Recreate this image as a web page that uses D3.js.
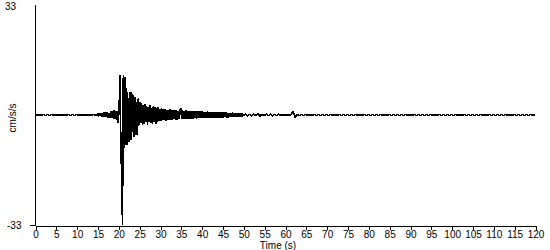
<!DOCTYPE html>
<html>
<head>
<meta charset="utf-8">
<script src="https://cdn.jsdelivr.net/npm/d3@7"></script>
<style>
  html, body { margin: 0; padding: 0; background: #fff; }
  svg { display: block; }
  text { font-family: "Liberation Sans", Arial, sans-serif; font-size: 10px; fill: #000; }
</style>
</head>
<body>
<svg id="chart" width="550" height="250"></svg>
<script>
// ---- data ----
const yTickLabels = [33, -33];
const xTicks = [0,5,10,15,20,25,30,35,40,45,50,55,60,65,70,75,80,85,90,95,100,105,110,115,120];

// quiet segment before the event: 0 s – 15 s, one sample every 0.5 s
const preStart = 0, preStep = 0.5;
const preEvent = [0.15,-0.15,0.15,-0.15,0.15,-0.15,0.15,-0.15,0.15,-0.15,
  0.15,-0.15,0.15,-0.15,0.15,-0.15,0.15,-0.15,0.15,-0.15,
  0.15,-0.15,0.15,-0.15,0.15,-0.15,0.15,-0.15,0.15,-0.15];

// strong motion: 15 s – 50 s, one sample every 0.2 s
const strongStart = 15, strongStep = 0.2;
const strong = [
  0.3,-0.4,0.5,-0.3,0.6,   -0.5,0.7,-0.6,0.8,-0.5,   0.9,-0.7,1.0,-0.8,0.7,
  -1.0,1.1,-0.9,1.3,-1.1,  1.4,-1.2,1.3,-1.4,1.1,
  -2.5,3.0,12.0,-8.0,-20.0, -33.0,12.0,-10.0,11.5,-9.0,
  8.0,-9.0,5.0,-8.0,7.0,   -7.5,7.0,-5.0,6.0,-6.5,   5.5,-6.0,4.0,-6.0,5.0,
  -3.0,4.0,-2.5,3.5,-3.0,  3.0,-2.8,3.2,-2.0,2.8,    -3.0,2.5,-2.2,3.0,-2.5,
  2.2,-2.8,2.6,-2.0,2.4,   -2.6,2.0,-2.2,2.5,-1.8,
  1.9,-1.7,2.0,-1.5,1.8,   -1.6,1.7,-1.8,1.5,-1.6,   1.6,-1.4,1.7,-1.5,1.4,
  -1.5,1.5,-1.3,1.6,-1.4,  1.4,-1.5,1.3,-1.2,1.5,
  2.0,-1.3,1.4,-1.2,1.3,   -1.2,1.4,-1.1,1.2,-1.3,   1.2,-1.1,1.3,-1.2,1.1,
  -1.2,1.1,-1.0,1.2,-1.1,  1.1,-1.0,1.2,-1.0,1.1,
  -1.0,1.1,-0.9,1.0,-1.0,  1.0,-0.9,1.1,-0.9,0.9,    -1.0,0.9,-0.9,1.0,-0.8,
  0.9,-0.9,0.8,-1.0,0.9,   -0.8,0.9,-0.8,0.9,-0.8,
  0.8,-0.8,0.9,-0.7,0.8,   -0.8,0.7,-0.8,0.7,-0.7,   0.7,-0.7,0.8,-0.6,0.7,
  -0.7,0.6,-0.7,0.6,-0.6,  0.6,-0.6,0.7,-0.5,0.6
];

// coda / tail: 50 s – 120 s, one sample every 0.5 s
const tailStart = 50, tailStep = 0.5;
const tail = [
  -0.3,0.3,-0.3,0.25,-0.3,0.3,-0.25,0.3,-0.3,0.25,
  -0.25,0.3,-0.25,0.3,-0.3,0.25,-0.25,0.3,-0.25,0.25,
  -0.2,0.2,-0.2,0.3,1.0,-0.8,0.2,-0.2,0.2,-0.2,
  0.2,-0.2,0.2,-0.2,0.2,-0.2,0.2,-0.2,0.2,-0.2,
  0.2,-0.2,0.2,-0.2,0.2,-0.2,0.2,-0.2,0.2,-0.2,
  0.2,-0.2,0.2,-0.2,0.2,-0.2,0.2,-0.2,0.2,-0.2,
  0.2,-0.2,0.2,-0.2,0.2,-0.2,0.2,-0.2,0.2,-0.2,
  0.2,-0.2,0.2,-0.2,0.2,-0.2,0.2,-0.2,0.2,-0.2,
  0.2,-0.2,0.2,-0.2,0.2,-0.2,0.2,-0.2,0.2,-0.2,
  0.2,-0.2,0.2,-0.2,0.2,-0.2,0.2,-0.2,0.2,-0.2,
  0.2,-0.2,0.2,-0.2,0.2,-0.2,0.2,-0.2,0.2,-0.2,
  0.2,-0.2,0.2,-0.2,0.2,-0.2,0.2,-0.2,0.2,-0.2,
  0.2,-0.2,0.2,-0.2,0.2,-0.2,0.2,-0.2,0.2,-0.2,
  0.2,-0.2,0.2,-0.2,0.2,-0.2,0.2,-0.2,0.2,-0.2,0.1
];

// ---- build series ----
function seg(start, step, vals) { return vals.map((v, i) => ({ t: start + i * step, v })); }
const series = [].concat(seg(preStart, preStep, preEvent), seg(strongStart, strongStep, strong), seg(tailStart, tailStep, tail));

// ---- layout ----
const svg = d3.select("#chart");
const x = d3.scaleLinear().domain([0, 120]).range([35, 535]);
const y = d3.scaleLinear().domain([-33, 33]).range([225, 5]);

// data line
svg.append("path")
  .datum(series)
  .attr("fill", "none")
  .attr("stroke", "#000")
  .attr("stroke-width", 1.6)
  .attr("stroke-linejoin", "bevel")
  .attr("shape-rendering", "crispEdges")
  .attr("d", d3.line().x(d => x(d.t)).y(d => y(Math.max(-33, Math.min(33, d.v)))));

// y axis line
svg.append("line").attr("x1", 35.5).attr("x2", 35.5).attr("y1", y(33)).attr("y2", y(-33) + 0.5)
  .attr("stroke", "#000").attr("shape-rendering", "crispEdges");
// y tick at -33
svg.append("line").attr("x1", 30).attr("x2", 35).attr("y1", y(-33) + 0.5).attr("y2", y(-33) + 0.5)
  .attr("stroke", "#000").attr("shape-rendering", "crispEdges");
svg.append("text").attr("x", 5).attr("y", y(33) + 5).text(yTickLabels[0]);
svg.append("text").attr("x", 7).attr("y", y(-33) + 4).text(yTickLabels[1]);

// x axis
const xAxis = d3.axisBottom(x).tickValues(xTicks).tickSize(4).tickSizeOuter(0).tickFormat(d3.format("d"));
const gx = svg.append("g").attr("transform", `translate(0.5,${y(-33) + 0.5})`).call(xAxis);
gx.select(".domain").attr("stroke", "#000").attr("shape-rendering", "crispEdges");
gx.selectAll(".tick line").attr("stroke", "#000").attr("shape-rendering", "crispEdges");
gx.selectAll(".tick text").attr("dy", "0.71em").attr("y", 5)
  .style("font-family", '"Liberation Sans", Arial, sans-serif').style("font-size", "10px").attr("fill", "#000");

// axis titles
svg.append("text").attr("x", 278).attr("y", 249).attr("text-anchor", "middle").text("Time (s)");
svg.append("text").attr("transform", `translate(16,118) rotate(-90)`).attr("text-anchor", "middle").text("cm/s/s");
</script>
</body>
</html>
